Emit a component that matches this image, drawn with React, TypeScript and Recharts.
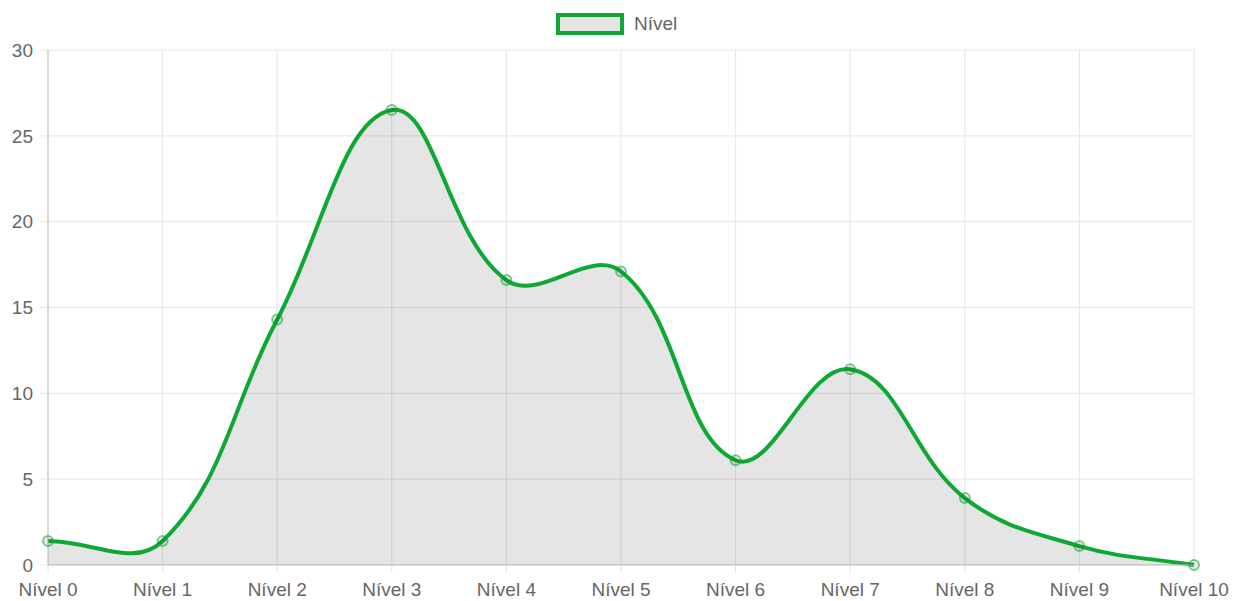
import { AreaChart, Area, XAxis, YAxis, CartesianGrid, Legend } from 'recharts'

const niveis = ['Nível 0', 'Nível 1', 'Nível 2', 'Nível 3', 'Nível 4', 'Nível 5', 'Nível 6', 'Nível 7', 'Nível 8', 'Nível 9', 'Nível 10']
const valores = [1.4, 1.4, 14.3, 26.5, 16.6, 17.1, 6.1, 11.4, 3.9, 1.1, 0]
const yTicks = [0, 5, 10, 15, 20, 25, 30]

const data = niveis.map((name, i) => ({ name, value: valores[i] }))

const GREEN = '#0fa834'
const TEXT = '#666'
const FONT = '"Liberation Sans", Arial, sans-serif'

// spline like chart.js (tension 0.4), control points from neighbours
function splineCurve(context: any) {
  let pts: number[][] = []
  let line = NaN
  const t = 0.4
  return {
    areaStart() { line = 0 },
    areaEnd() { line = NaN },
    lineStart() { pts = [] },
    point(x: number, y: number) { pts.push([+x, +y]) },
    lineEnd() {
      const n = pts.length
      if (n) {
        if (line) context.lineTo(pts[0][0], pts[0][1])
        else context.moveTo(pts[0][0], pts[0][1])
        const cps = pts.map((cur, i) => {
          const prev = pts[i - 1] || cur
          const next = pts[i + 1] || cur
          const d01 = Math.hypot(cur[0] - prev[0], cur[1] - prev[1])
          const d12 = Math.hypot(next[0] - cur[0], next[1] - cur[1])
          let s01 = d01 / (d01 + d12)
          let s12 = d12 / (d01 + d12)
          if (isNaN(s01)) s01 = 0
          if (isNaN(s12)) s12 = 0
          const fa = t * s01
          const fb = t * s12
          return {
            px: cur[0] - fa * (next[0] - prev[0]),
            py: cur[1] - fa * (next[1] - prev[1]),
            nx: cur[0] + fb * (next[0] - prev[0]),
            ny: cur[1] + fb * (next[1] - prev[1]),
          }
        })
        for (let i = 1; i < n; i++) {
          context.bezierCurveTo(cps[i - 1].nx, cps[i - 1].ny, cps[i].px, cps[i].py, pts[i][0], pts[i][1])
        }
      }
      if (line || (line !== 0 && n === 1)) context.closePath()
      line = 1 - line
    },
  }
}

function LegendBox() {
  return (
    <div style={{ position: 'relative', height: 50, width: 1243, fontFamily: FONT }}>
      <div
        style={{
          position: 'absolute',
          left: 556,
          top: 13,
          width: 68,
          height: 22,
          boxSizing: 'border-box',
          border: `4px solid ${GREEN}`,
          background: '#e5e5e5',
        }}
      />
      <span style={{ position: 'absolute', left: 634, top: 12, fontSize: 19, color: TEXT, lineHeight: '24px' }}>Nível</span>
    </div>
  )
}

export default function App() {
  return (
    <div style={{ position: 'absolute', left: 0, top: 0 }}>
      <AreaChart width={1243} height={601} data={data} margin={{ top: 0, right: 49, bottom: 0, left: 0 }}>
        <CartesianGrid stroke="#e6e6e6" strokeWidth={1} />
        <Legend verticalAlign="top" align="center" wrapperStyle={{ left: 0, top: 0, width: 1243 }} content={() => <LegendBox />} />
        <XAxis
          dataKey="name"
          interval={0}
          height={36}
          tickSize={8}
          tickMargin={10}
          tickLine={{ stroke: '#e6e6e6' }}
          axisLine={{ stroke: '#bdbdbd' }}
          tick={{ fill: TEXT, fontSize: 19, fontFamily: FONT }}
        />
        <YAxis
          domain={[0, 30]}
          ticks={yTicks}
          width={48}
          tickSize={8}
          tickMargin={7}
          tickLine={{ stroke: '#e6e6e6' }}
          axisLine={{ stroke: '#bdbdbd' }}
          tick={{ fill: TEXT, fontSize: 19, fontFamily: FONT }}
        />
        <Area
          type={splineCurve as any}
          dataKey="value"
          stroke={GREEN}
          strokeWidth={4}
          fill="rgba(0,0,0,0.1)"
          fillOpacity={1}
          dot={{ r: 5, stroke: 'rgba(15,168,52,0.55)', strokeWidth: 2, fill: 'rgba(0,0,0,0.08)' }}
          activeDot={false}
          isAnimationActive={false}
        />
      </AreaChart>
    </div>
  )
}
